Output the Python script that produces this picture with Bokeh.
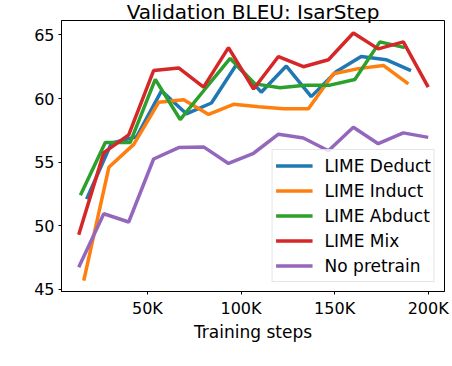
from bokeh.plotting import figure
from bokeh.models import FixedTicker, Range1d
from bokeh.embed import file_html
from bokeh.resources import INLINE

# Training steps (thousands) per series
red_x = [13.3, 26.7, 40.0, 53.3, 66.7, 80.0, 93.3, 106.7, 120.0, 133.3, 146.7, 160.0, 173.3, 186.7, 200.0]
purple_x = [13.3, 26.7, 40.0, 53.3, 66.7, 80.0, 93.3, 106.7, 120.0, 133.3, 146.7, 160.0, 173.3, 186.7, 200.0]
green_x = [14.2, 27.5, 40.8, 54.2, 67.5, 80.8, 94.2, 107.5, 120.8, 134.2, 147.5, 160.8, 174.2, 187.5]
orange_x = [16.0, 29.4, 42.7, 56.0, 69.4, 82.7, 96.0, 109.4, 122.7, 136.0, 149.4, 162.7, 176.0, 189.4]
blue_x = [17.5, 30.8, 44.2, 57.5, 70.8, 84.2, 97.5, 110.8, 124.2, 137.5, 150.8, 164.2, 177.5, 190.8]

# BLEU values
deduct = [52.1, 56.5, 57.0, 60.6, 58.8, 59.65, 62.65, 60.5, 62.55, 60.15, 62.1, 63.3, 63.05, 62.2]
induct = [45.7, 54.6, 56.4, 59.7, 59.9, 58.75, 59.55, 59.35, 59.2, 59.2, 61.95, 62.35, 62.6, 61.15]
abduct = [52.4, 56.55, 56.55, 61.5, 58.35, 60.75, 63.15, 61.15, 60.85, 61.05, 61.05, 61.5, 64.45, 64.0]
mix = [49.3, 55.75, 57.15, 62.2, 62.4, 60.9, 64.0, 60.75, 63.3, 62.5, 63.05, 65.15, 63.9, 64.45, 60.9]
nopre = [46.75, 50.95, 50.3, 55.25, 56.15, 56.2, 54.9, 55.7, 57.2, 56.9, 55.9, 57.75, 56.45, 57.3, 56.95]

x_ticks = [50000, 100000, 150000, 200000]
x_tick_labels = ["50K", "100K", "150K", "200K"]
y_ticks = [45, 50, 55, 60, 65]

FONT = "DejaVu Sans"

p = figure(width=452, height=366, output_backend="svg", toolbar_location=None,
           title="Validation BLEU: IsarStep",
           x_range=Range1d(4100, 208700), y_range=Range1d(44.84, 66.13),
           min_border_left=61, min_border_right=8, min_border_top=20, min_border_bottom=75)

p.title.text_font = FONT
p.title.text_font_size = "20px"
p.title.text_font_style = "normal"
p.title.text_color = "black"
p.title.align = "center"
p.title.standoff = -6
p.title.offset = 0

series = [
    (blue_x, deduct, "#1f77b4", "LIME Deduct"),
    (orange_x, induct, "#ff7f0e", "LIME Induct"),
    (green_x, abduct, "#2ca02c", "LIME Abduct"),
    (red_x, mix, "#d62728", "LIME Mix"),
    (purple_x, nopre, "#9467bd", "No pretrain"),
]
for xs, ys, c, lab in series:
    p.line([x * 1000 for x in xs], ys, line_color=c, line_width=3.5, legend_label=lab)

p.xgrid.visible = False
p.ygrid.visible = False
p.outline_line_color = "black"
p.outline_line_width = 1
p.background_fill_color = "white"
p.border_fill_color = "white"

p.xaxis.ticker = FixedTicker(ticks=x_ticks)
p.xaxis.major_label_overrides = {t: l for t, l in zip(x_ticks, x_tick_labels)}
p.yaxis.ticker = FixedTicker(ticks=y_ticks)
p.xaxis.axis_label = "Training steps"
p.xaxis.axis_label_text_font = FONT
p.xaxis.axis_label_text_font_size = "17px"
p.xaxis.axis_label_text_font_style = "normal"
p.xaxis.axis_label_text_color = "black"
p.xaxis.axis_label_standoff = 1

for ax in (p.xaxis, p.yaxis):
    ax.major_label_text_font = FONT
    ax.major_label_text_font_size = "16px"
    ax.major_label_text_color = "black"
    ax.axis_line_color = "black"
    ax.major_tick_line_color = "black"
    ax.major_tick_in = 0
    ax.major_tick_out = 3
    ax.minor_tick_line_color = None
    ax.major_label_standoff = 4

leg = p.legend[0]
leg.location = "bottom_right"
leg.margin = 9
leg.padding = 3
leg.spacing = 0
leg.glyph_width = 37
leg.glyph_height = 25
leg.label_height = 25
leg.label_standoff = 12
leg.label_text_font = FONT
leg.label_text_font_size = "17px"
leg.label_text_color = "black"
leg.border_line_color = "#cccccc"
leg.border_line_width = 1
leg.background_fill_alpha = 0.8

open("out.html", "w").write(file_html(p, INLINE))
